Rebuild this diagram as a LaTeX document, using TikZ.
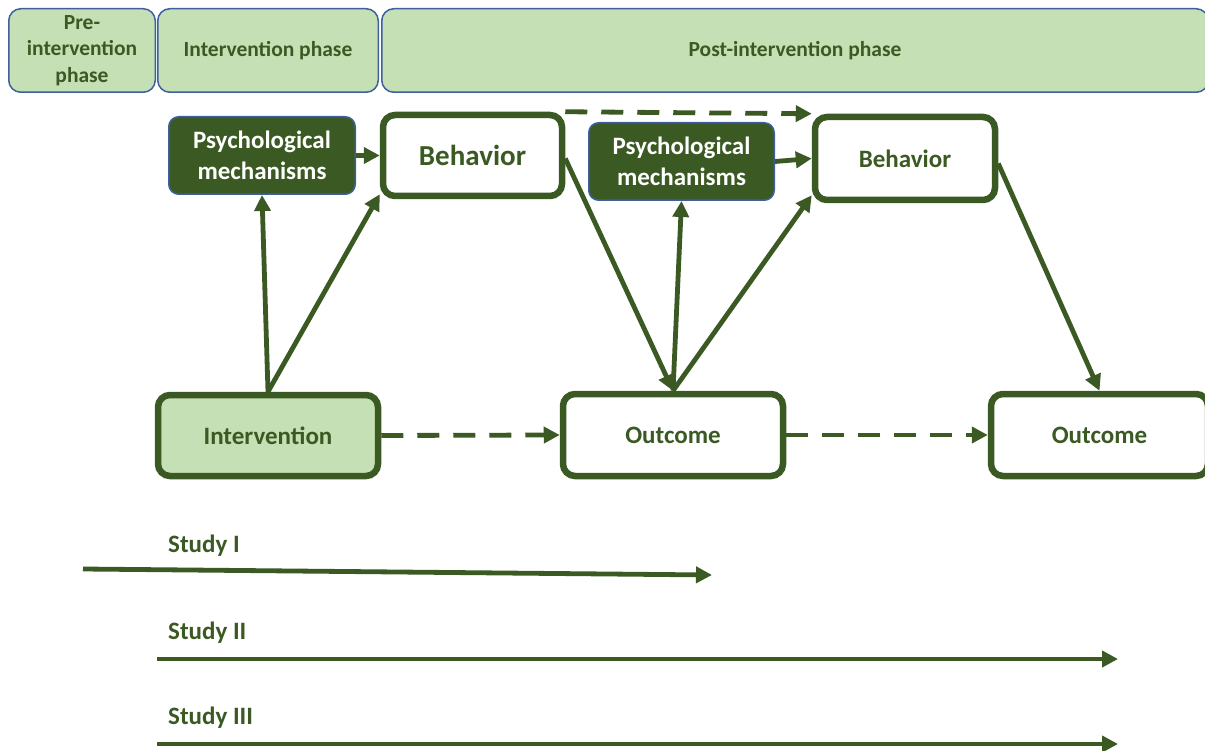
\documentclass[tikz,border=0pt]{standalone}
\usepackage{fontspec}
\setmainfont{Carlito}
\usetikzlibrary{arrows.meta,calc}
\definecolor{dg}{HTML}{3B5A23}
\definecolor{lg}{HTML}{C5E0B4}
\definecolor{bl}{HTML}{3F5F9F}
\begin{document}
\begin{tikzpicture}[x=1pt,y=-1pt,
  phase/.style={draw=bl, line width=1.5pt, fill=lg, rounded corners=12pt, text=dg, font=\fontsize{21.5}{26.5}\selectfont\bfseries, align=center, inner sep=0pt, minimum height=83.5pt},
  psy/.style={draw=bl, line width=1.5pt, fill=dg, rounded corners=10pt, text=white, font=\fontsize{25}{31}\selectfont\bfseries, align=center, inner sep=0pt, minimum height=77.5pt},
  box/.style={draw=dg, line width=6.5pt, fill=white, rounded corners=12pt, text=dg, font=\fontsize{25}{30}\selectfont\bfseries, inner sep=0pt},
  arr/.style={draw=dg, line width=4.8pt, -{Triangle[length=16pt,width=16pt]}},
  darr/.style={arr, dash pattern=on 22pt off 14pt},
  study/.style={text=dg, font=\fontsize{25}{30}\selectfont\bfseries, anchor=west, inner sep=0pt},
]
\clip (0,0) rectangle (1205,751);
\fill[white] (0,0) rectangle (1205,751);
% phase headers
\node[phase, minimum width=146.5pt] (ph1) at (82,50.5) {Pre-\\intervention\\phase};
\node[phase, minimum width=220.5pt] (ph2) at (268,50.5) {Intervention phase};
\node[phase, minimum width=826.5pt] (ph3) at (795,50.5) {Post-intervention phase};
% nodes
\node[psy, minimum width=186.5pt] (psy1) at (262,155.5) {Psychological\\mechanisms};
\node[box, minimum width=179pt, minimum height=81pt, font=\fontsize{29}{33}\selectfont\bfseries] (beh1) at (472.5,155.5) {Behavior};
\node[psy, minimum width=185.5pt] (psy2) at (681.5,161.5) {Psychological\\mechanisms};
\node[box, minimum width=180pt, minimum height=83pt] (beh2) at (905,158.5) {Behavior};
\node[box, fill=lg, minimum width=220pt, minimum height=81pt] (int) at (268,435.5) {Intervention};
\node[box, minimum width=220pt, minimum height=82pt] (out1) at (673,435) {Outcome};
\node[box, minimum width=217pt, minimum height=82pt] (out2) at (1099.5,435) {Outcome};
% connectors
\draw[arr] (int.north) -- (psy1.south);
\draw[arr] (int.north) -- ($(beh1.south west)+(0,-5)$);
\draw[arr] (psy1.east) -- (beh1.west);
\draw[darr] (beh1.north east) -- (beh2.north west);
\draw[arr] ($(beh1.east)+(0,3)$) -- (out1.north);
\draw[arr] (out1.north) -- (psy2.south);
\draw[arr] (out1.north) -- ($(beh2.south west)+(0,-8)$);
\draw[arr] (psy2.east) -- (beh2.west);
\draw[arr] ($(beh2.east)+(0,5)$) -- (out2.north);
\draw[darr] (int.east) -- (out1.west);
\draw[darr] (out1.east) -- (out2.west);
% studies
\node[study] (st1) at (168,546) {Study I};
\node[study] (st2) at (168,633) {Study II};
\node[study] (st3) at (168,718) {Study III};
\coordinate (s1a) at (83,569);
\coordinate (s1b) at (712,575);
\coordinate (s2a) at (157,659);
\coordinate (s2b) at (1118,659);
\coordinate (s3a) at (157,744);
\coordinate (s3b) at (1118,744);
\draw[arr] (s1a) -- (s1b);
\draw[arr] (s2a) -- (s2b);
\draw[arr] (s3a) -- (s3b);
\end{tikzpicture}
\end{document}
